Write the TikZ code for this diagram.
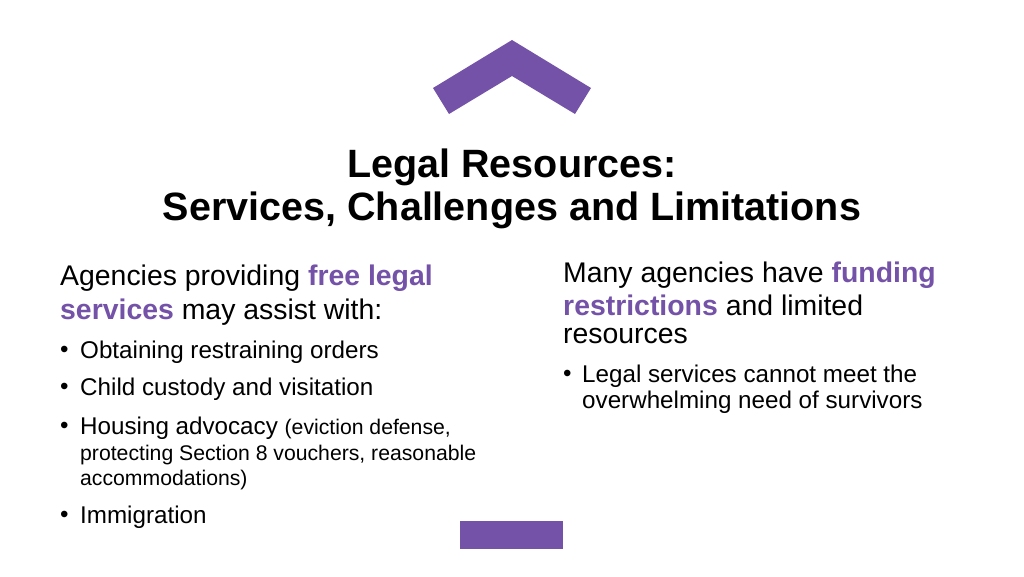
\documentclass[tikz,border=0pt]{standalone}
\usepackage{fontspec}
\setmainfont{Liberation Sans}
\definecolor{lilac}{HTML}{7452A8}
\tikzset{
  big/.style={anchor=west,inner sep=0pt,font=\fontsize{28.4}{30}\selectfont},
  mid/.style={anchor=west,inner sep=0pt,font=\fontsize{24.2}{26}\selectfont},
  small/.style={anchor=west,inner sep=0pt,font=\fontsize{21.2}{22}\selectfont},
  heading/.style={inner sep=0pt,font=\fontsize{39.5}{40}\selectfont\bfseries}
}
\newcommand{\hl}[1]{\textcolor{lilac}{\textbf{#1}}}
\begin{document}
\begin{tikzpicture}[x=1pt,y=-1pt]
\useasboundingbox (0,0) rectangle (1024,576);
% chevron and bar
\fill[lilac] (433,88) -- (512,40) -- (591,88) -- (575,114) -- (512,76) -- (449,114) -- cycle;
\fill[lilac] (460,521) rectangle (563,549);
% title
\node[heading] (title1) at (512,167) {Legal Resources:};
\node[heading] (title2) at (512,210) {Services, Challenges and Limitations};
% left column
\node[big] (l1) at (60,278) {Agencies providing \hl{free legal}};
\node[big] (l2) at (60,312) {\hl{services} may assist with:};
\foreach \y/\t/\n in {352/Obtaining restraining orders/b1, 389/Child custody and visitation/b2, 517/Immigration/b4}{
  \node[mid] (\n d) at (60,\y) {\textbullet};
  \node[mid] (\n) at (80,\y) {\t};
}
\node[mid] (b3d) at (60,428) {\textbullet};
\node[mid] (b3) at (80,428) {Housing advocacy {\fontsize{21.2}{22}\selectfont(eviction defense,}};
\node[small] (b3a) at (80,455) {protecting Section 8 vouchers, reasonable};
\node[small] (b3b) at (80,480) {accommodations)};
% right column
\node[big] (r1) at (563,275) {Many agencies have \hl{funding}};
\node[big] (r2) at (563,305) {\hl{restrictions} and limited};
\node[big] (r3) at (563,336) {resources};
\node[mid] (c1d) at (563,376) {\textbullet};
\node[mid] (c1) at (582,376) {Legal services cannot meet the};
\node[mid] (c2) at (582,402) {overwhelming need of survivors};
\end{tikzpicture}
\end{document}
